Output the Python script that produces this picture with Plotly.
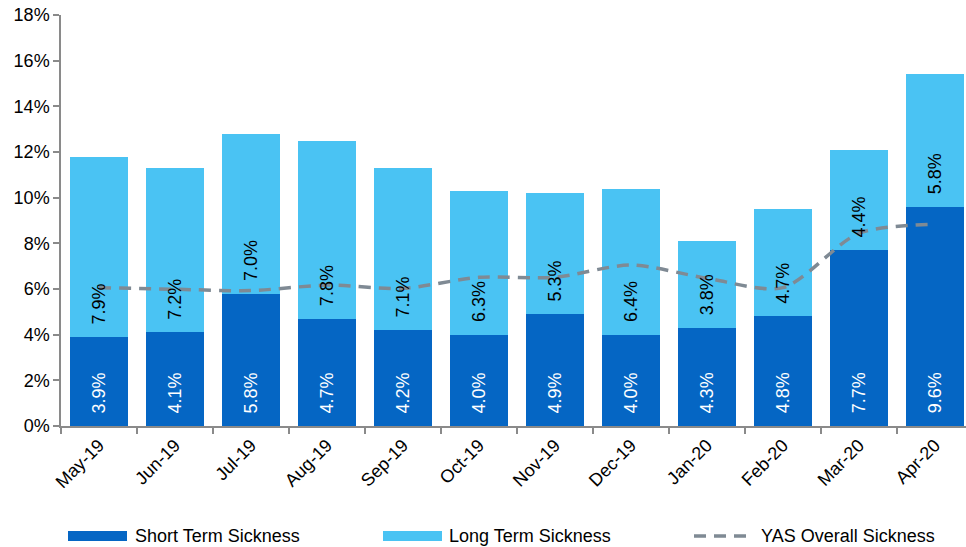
import plotly.graph_objects as go

# Monthly sickness absence rates (%)
months = ["May-19", "Jun-19", "Jul-19", "Aug-19", "Sep-19", "Oct-19",
          "Nov-19", "Dec-19", "Jan-20", "Feb-20", "Mar-20", "Apr-20"]
short_term = [3.9, 4.1, 5.8, 4.7, 4.2, 4.0, 4.9, 4.0, 4.3, 4.8, 7.7, 9.6]
long_term = [7.9, 7.2, 7.0, 7.8, 7.1, 6.3, 5.3, 6.4, 3.8, 4.7, 4.4, 5.8]
overall = [6.06, 5.99, 5.93, 6.17, 6.03, 6.51, 6.51, 7.05, 6.47, 6.06, 8.44, 8.83]

DARK = "#0566C4"
LIGHT = "#4AC3F3"
LINE = "#7F8A94"
AXIS = "#8A8A8A"
FONT = "Liberation Sans, Arial, sans-serif"

W, H = 966, 547
ML, MR, MT, MB = 61, 0, 15, 121

fig = go.Figure()
fig.add_trace(go.Bar(x=months, y=short_term, name="Short Term Sickness",
                     marker=dict(color=DARK, line=dict(width=0))))
fig.add_trace(go.Bar(x=months, y=long_term, name="Long Term Sickness",
                     marker=dict(color=LIGHT, line=dict(width=0))))
fig.add_trace(go.Scatter(x=months, y=overall, name="YAS Overall Sickness",
                         mode="lines",
                         line=dict(color=LINE, width=3.5, dash="12px,8px",
                                   shape="spline", smoothing=0.8)))

# Value labels, reading upwards from the base of each segment
annotations = []
for m, s, l in zip(months, short_term, long_term):
    annotations.append(dict(x=m, y=0, xref="x", yref="y", text=f"{s:.1f}%",
                            textangle=-90, showarrow=False, yanchor="bottom",
                            yshift=11, font=dict(color="white", size=18, family=FONT)))
    annotations.append(dict(x=m, y=s, xref="x", yref="y", text=f"{l:.1f}%",
                            textangle=-90, showarrow=False, yanchor="bottom",
                            yshift=11, font=dict(color="black", size=18, family=FONT)))

# Legend drawn below the axis
plot_h = H - MT - MB
plot_w = W - ML - MR
def px_x(p):
    return (p - ML) / plot_w
def px_y(p):
    return (H - MB - p) / plot_h

leg_y = 536
shapes = [
    dict(type="rect", xref="paper", yref="paper", x0=px_x(68), x1=px_x(127),
         y0=px_y(leg_y + 5), y1=px_y(leg_y - 5), fillcolor=DARK, line=dict(width=0)),
    dict(type="rect", xref="paper", yref="paper", x0=px_x(383), x1=px_x(442),
         y0=px_y(leg_y + 5), y1=px_y(leg_y - 5), fillcolor=LIGHT, line=dict(width=0)),
    dict(type="line", xref="paper", yref="paper", x0=px_x(694), x1=px_x(752),
         y0=px_y(leg_y), y1=px_y(leg_y), line=dict(color=LINE, width=3.5, dash="12px,8px")),
]
for x0, label in [(133, "Short Term Sickness"), (447, "Long Term Sickness"),
                  (759, "YAS Overall Sickness")]:
    annotations.append(dict(x=px_x(x0), y=px_y(leg_y), xref="paper", yref="paper",
                            text=label, showarrow=False, xanchor="left", yanchor="middle",
                            font=dict(color="black", size=18, family=FONT)))

fig.update_layout(
    width=W, height=H,
    margin=dict(l=ML, r=MR, t=MT, b=MB),
    barmode="stack", bargap=0.237,
    paper_bgcolor="white", plot_bgcolor="white",
    showlegend=False,
    font=dict(family=FONT, size=18, color="black"),
    annotations=annotations, shapes=shapes,
)
fig.update_xaxes(type="category", range=[-0.5, 11.41], tickangle=-45,
                 showline=True, linecolor=AXIS, linewidth=1.5,
                 ticks="outside", tickson="boundaries", ticklen=6, tickcolor=AXIS,
                 tickwidth=1.5, showgrid=False, tickfont=dict(size=18, color="black"))
fig.update_yaxes(range=[0, 18], dtick=2, ticksuffix="%",
                 showline=True, linecolor=AXIS, linewidth=1.5,
                 ticks="outside", ticklen=6, tickcolor=AXIS, tickwidth=1.5,
                 showgrid=False, zeroline=False, tickfont=dict(size=18, color="black"))

fig.write_html("out.html")
